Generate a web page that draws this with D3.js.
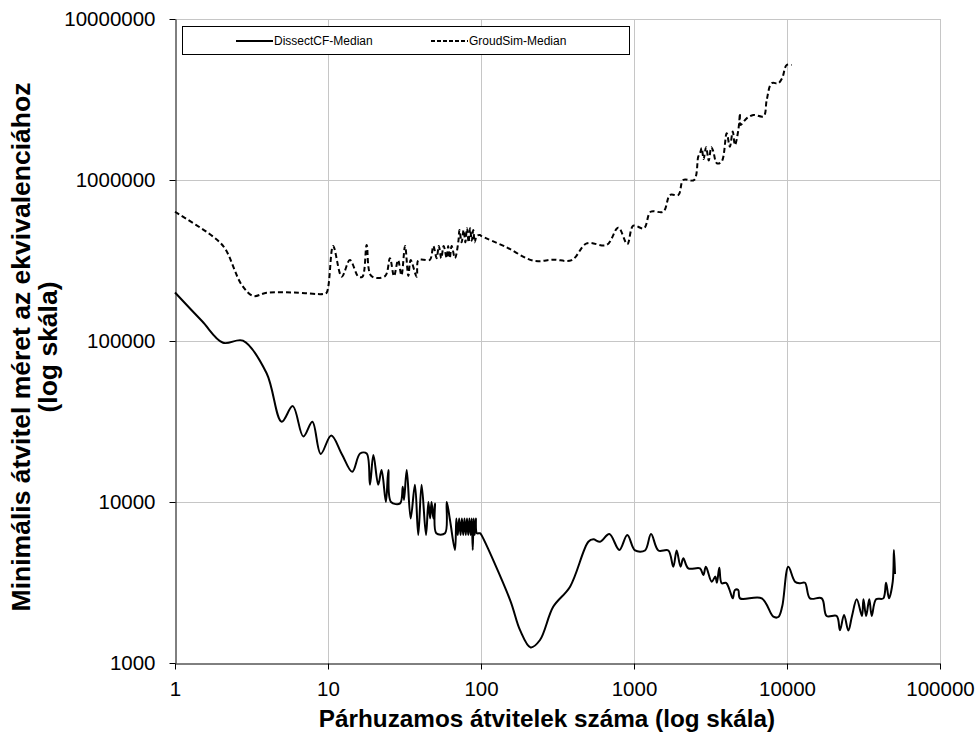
<!DOCTYPE html>
<html>
<head>
<meta charset="utf-8">
<script src="https://cdn.jsdelivr.net/npm/d3@7"></script>
<style>
  html, body { margin: 0; padding: 0; background: #fff; }
  svg { display: block; }
  text { font-family: "Liberation Sans", Arial, sans-serif; fill: #000; }
</style>
</head>
<body>
<svg id="chart" width="980" height="733"></svg>
<script>
// ---- data ----
const xTicks = [1, 10, 100, 1000, 10000, 100000];
const yTicks = [1000, 10000, 100000, 1000000, 10000000];
const seriesNames = ["DissectCF-Median", "GroudSim-Median"];
const xTitle = "Párhuzamos átvitelek száma (log skála)";
const yTitleLines = ["Minimális átvitel méret az ekvivalenciához", "(log skála)"];

const dissectX = [1, 1.5, 2.06, 2.78, 3.97, 4.98, 5.88, 6.9, 7.9, 8.96, 10.5, 12.3, 14.4, 16.2, 17.9, 18.8, 19.8, 21.3, 22.4, 23.9, 24.8, 25.8, 29.6, 30.8, 31.4, 32.7, 34.7, 37.0, 38.9, 40.9, 43.7, 45.3, 46.5, 47.5, 48.8, 50, 51, 58.2, 59.7, 62.7, 67.6, 69, 70.5, 72, 73.5, 75, 76.5, 78, 79.5, 81, 82.5, 84, 85.5, 87, 88.3, 89.5, 91, 92.5, 94, 98.5, 100, 155, 180, 211, 243, 297, 382, 503, 542, 600, 690, 802, 904, 1016, 1180, 1292, 1443, 1676, 1807, 1900, 2015, 2100, 2264, 2700, 2840, 2950, 3220, 3400, 3480, 3610, 3740, 4000, 4200, 4420, 4570, 4800, 4930, 6840, 8140, 8770, 9300, 10200, 11280, 12160, 13100, 14130, 16870, 18160, 21130, 22190, 23600, 25170, 26600, 28560, 30900, 31600, 32900, 34500, 35800, 38200, 42600, 44400, 46400, 49100, 50000, 50800];
const dissectY = [200000, 133000, 97500, 100500, 63000, 31500, 39400, 25500, 31500, 19900, 25900, 19900, 15400, 20000, 20000, 12800, 19600, 12800, 15800, 10000, 15800, 10000, 9800, 12450, 10300, 15800, 7900, 12800, 6240, 12800, 6240, 10000, 7900, 10000, 7900, 9800, 6400, 6400, 10000, 7730, 5040, 7900, 6240, 7900, 6240, 7900, 6240, 7900, 6240, 7900, 6240, 7900, 6240, 7900, 5040, 7900, 6240, 7900, 6400, 6400, 6300, 2460, 1600, 1250, 1390, 2240, 2980, 5660, 5860, 5660, 6320, 5040, 6240, 5000, 5000, 6320, 5000, 5000, 3960, 5000, 3960, 4470, 3870, 3870, 3520, 3960, 3200, 3440, 3150, 3900, 3130, 3150, 2870, 2520, 2840, 2840, 2520, 2520, 1940, 1930, 2240, 3960, 3200, 3130, 3150, 2520, 2520, 1960, 1960, 1600, 1990, 1590, 1960, 2490, 1960, 2490, 1960, 2490, 1960, 2490, 2520, 3150, 2520, 3200, 5040, 3570];

const groudX = [1, 1.78, 2.12, 2.73, 3.25, 3.97, 6, 9.32, 9.8, 10.8, 12.3, 13.9, 15.8, 16.8, 17.9, 19.2, 23.6, 25.4, 27.0, 28.7, 30.2, 31.9, 33.5, 34.7, 38.0, 38.9, 42.0, 46.4, 48.8, 51.3, 53, 55, 57, 59.7, 61, 62.5, 64.3, 67.6, 71.1, 72.3, 74.7, 77, 79, 81, 83, 84.8, 87, 89, 91, 93.7, 98.5, 100, 147, 220, 297, 392, 491, 663, 789, 904, 989, 1162, 1285, 1554, 1720, 1950, 2100, 2470, 2630, 2700, 2770, 2850, 2960, 3080, 3200, 3300, 3480, 3740, 4035, 4230, 4420, 4570, 4810, 4930, 4960, 5450, 6020, 7030, 7370, 7940, 8770, 9300, 9950, 10740];
const groudY = [635000, 444000, 376000, 223000, 190500, 199500, 200000, 196000, 200000, 389000, 251000, 318000, 251000, 251000, 395000, 253000, 253000, 327000, 253000, 318000, 256000, 389000, 253000, 318000, 251000, 318000, 320000, 320000, 389000, 327000, 389000, 327000, 389000, 327000, 389000, 327000, 389000, 327000, 414000, 489000, 410000, 489000, 410000, 501000, 410000, 501000, 420000, 489000, 410000, 450000, 455000, 450000, 382000, 315000, 320000, 318000, 404000, 395000, 506000, 400000, 520000, 501000, 635000, 635000, 807000, 807000, 1000000, 1000000, 1396000, 1466000, 1580000, 1350000, 1600000, 1320000, 1600000, 1500000, 1270000, 1300000, 1950000, 1610000, 2000000, 1650000, 2050000, 2595000, 2200000, 2415000, 2535000, 2490000, 3140000, 3990000, 3990000, 4290000, 5180000, 5180000];

// ---- chart ----
const svg = d3.select("#chart");
const pL = 175, pR = 940, pT = 19, pB = 663;

const x = d3.scaleLog().domain([1, 100000]).range([pL, pR]);
const y = d3.scaleLog().domain([1000, 10000000]).range([pB, pT]);

// gridlines
const grid = svg.append("g").attr("stroke", "#c6c6c6").attr("stroke-width", 1);
grid.selectAll("line.v").data(xTicks.slice(1)).enter().append("line")
  .attr("x1", d => Math.round(x(d)) + 0.5).attr("x2", d => Math.round(x(d)) + 0.5)
  .attr("y1", pT).attr("y2", pB);
grid.selectAll("line.h").data(yTicks.slice(1)).enter().append("line")
  .attr("y1", d => Math.round(y(d)) + 0.5).attr("y2", d => Math.round(y(d)) + 0.5)
  .attr("x1", pL).attr("x2", pR);

// axes
const xAxis = d3.axisBottom(x).tickValues(xTicks).tickFormat(d3.format("d"))
  .tickSize(6).tickSizeOuter(0).tickPadding(12);
const yAxis = d3.axisLeft(y).tickValues(yTicks).tickFormat(d3.format("d"))
  .tickSize(6).tickSizeOuter(0).tickPadding(14);

const gx = svg.append("g").attr("transform", `translate(0,${pB + 0.5})`).call(xAxis);
const gy = svg.append("g").attr("transform", `translate(${pL + 0.5},0)`).call(yAxis);
[gx, gy].forEach(g => {
  g.select(".domain").attr("stroke", "#000");
  g.selectAll(".tick line").attr("stroke", "#000");
  g.selectAll(".tick text").style("font-size", "20.5px").style("font-family", "Liberation Sans, Arial, sans-serif").attr("fill", "#000");
});

// series lines
const dissect = dissectX.map((d, i) => [d, dissectY[i]]);
const groud = groudX.map((d, i) => [d, groudY[i]]);
const line = d3.line().x(d => x(d[0])).y(d => y(d[1])).curve(d3.curveCatmullRom.alpha(0.5));

svg.append("path").datum(groud).attr("d", line)
  .attr("fill", "none").attr("stroke", "#000").attr("stroke-width", 2)
  .attr("stroke-dasharray", "5,3");
svg.append("path").datum(dissect).attr("d", line)
  .attr("fill", "none").attr("stroke", "#000").attr("stroke-width", 2);

// legend
const lg = svg.append("g");
lg.append("rect").attr("x", 182.5).attr("y", 26.5).attr("width", 447).attr("height", 28)
  .attr("fill", "#fff").attr("stroke", "#000").attr("stroke-width", 1);
const legendItems = [
  { name: seriesNames[0], x1: 236, x2: 273, dash: null },
  { name: seriesNames[1], x1: 431, x2: 468, dash: "4,2" }
];
legendItems.forEach(it => {
  lg.append("line").attr("x1", it.x1).attr("x2", it.x2).attr("y1", 41).attr("y2", 41)
    .attr("stroke", "#000").attr("stroke-width", 2).attr("stroke-dasharray", it.dash);
  lg.append("text").attr("x", it.x2 + 1).attr("y", 41).attr("dy", "0.35em")
    .style("font-size", "12px").text(it.name);
});

// axis titles
svg.append("text").attr("x", 547).attr("y", 718).attr("dy", "0.35em")
  .attr("text-anchor", "middle").style("font-size", "24.3px").style("font-weight", "bold")
  .text(xTitle);
const yt = svg.append("text").attr("transform", "translate(21,347) rotate(-90)")
  .attr("text-anchor", "middle").style("font-size", "26.5px").style("font-weight", "bold");
yTitleLines.forEach((t, i) => {
  yt.append("tspan").attr("x", 0).attr("y", i * 27).attr("dy", "0.35em").text(t);
});
</script>
</body>
</html>
